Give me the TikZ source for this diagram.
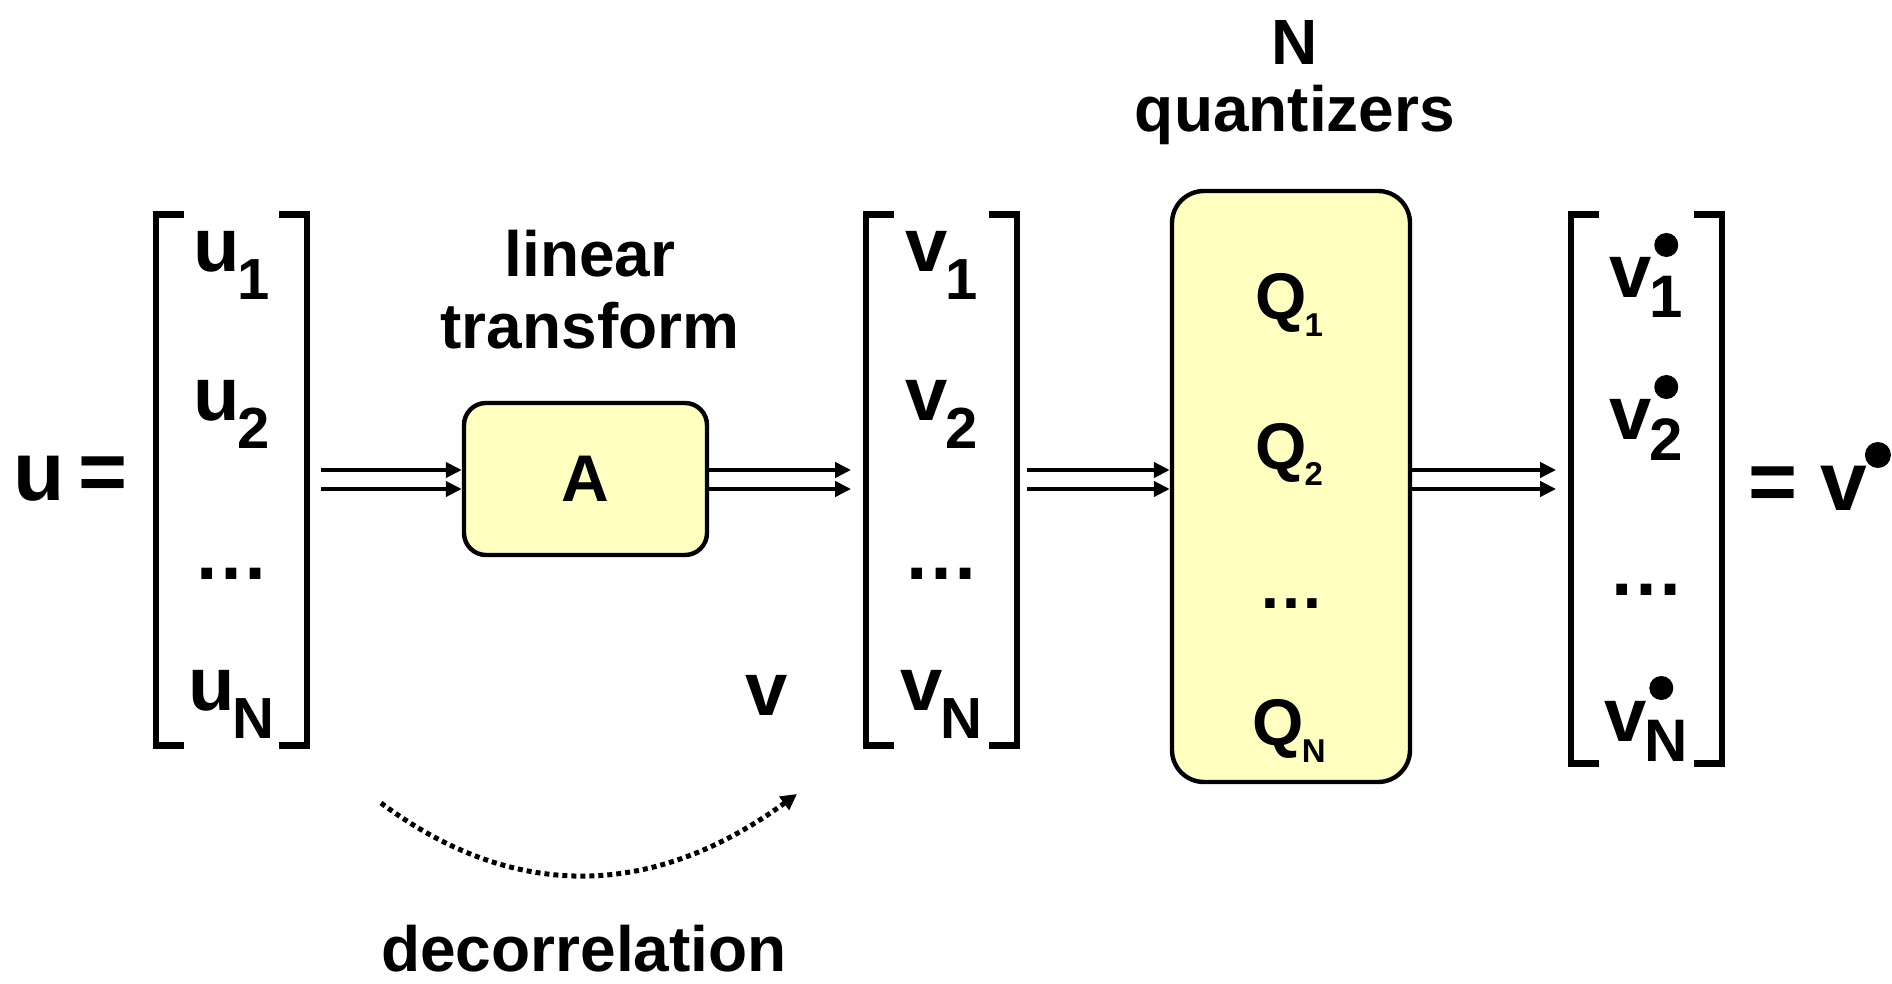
\documentclass[tikz,border=0pt]{standalone}
\usepackage{fontspec}
\setmainfont{Liberation Sans}
\usetikzlibrary{arrows.meta,calc}
\definecolor{boxfill}{RGB}{255,255,192}
\newcommand{\fsz}[1]{\fontsize{#1}{#1}\selectfont\bfseries}
% lowered index: drop, size, text
\newcommand{\lowsub}[3]{\kern-1pt\raisebox{-#1}{\fsz{#2}#3}}

\begin{document}
\begin{tikzpicture}[x=0.5pt,y=-0.5pt,
  txt/.style={inner sep=0pt, anchor=base, font=\fsz{32pt}},
  ent/.style={inner sep=0pt, anchor=base, font=\fsz{38pt}},
  qent/.style={inner sep=0pt, anchor=base, font=\fsz{33pt}},
  mat/.style={inner sep=0pt, minimum width=75pt},
  brk/.style={line width=3.3pt},
  blk/.style={draw, line width=2.2pt, fill=boxfill, inner sep=0pt},
  arr/.style={line width=2pt, -{Triangle[length=8pt,width=7.5pt]}},
  dotarr/.style={line width=2.5pt, dash pattern=on 2.5pt off 2pt, -{Triangle[length=8pt,width=8pt]}}
]
\useasboundingbox (0,0) rectangle (1892,984);

% vectors as bracketed columns
\node[mat, minimum height=265pt] (U) at (231.5,480) {};
\node[mat, minimum height=265pt] (V) at (941.5,480) {};
\node[mat, minimum height=274pt] (W) at (1646.5,489) {};
\foreach \m in {U,V,W} {
  \draw[brk] ([xshift=14pt]\m.north west) -- (\m.north west) -- (\m.south west) -- ([xshift=14pt]\m.south west);
  \draw[brk] ([xshift=-14pt]\m.north east) -- (\m.north east) -- (\m.south east) -- ([xshift=-14pt]\m.south east);
}

% u = [...]
\node[inner sep=0pt, anchor=base west, font=\fsz{42pt}] (lhs) at (13,501) {u\hspace{7pt}=};
\node[ent] (u1) at (231.5,272) {u\lowsub{14pt}{29pt}{1}};
\node[ent] (u2) at (231.5,421) {u\lowsub{14pt}{29pt}{2}};
\node[ent] (ud) at (231.5,579) {…};
\node[ent] (uN) at (231.5,710) {u\lowsub{14pt}{29pt}{N}};

% linear transform
\node[txt] (lin) at (590,277) {linear};
\node[txt] (trf) at (590,349) {transform};
\node[blk, rounded corners=11pt, minimum width=121.5pt, minimum height=76pt, font=\fsz{33pt}] (A) at (585.5,479) {A};

% v = [...]
\node[ent] (v1) at (941.5,272) {v\lowsub{14pt}{29pt}{1}};
\node[ent] (v2) at (941.5,421) {v\lowsub{14pt}{29pt}{2}};
\node[ent] (vd) at (941.5,579) {…};
\node[ent] (vN) at (941.5,710) {v\lowsub{14pt}{29pt}{N}};
\node[ent] (vlab) at (767,715) {v};

% N quantizers
\node[txt] (nq) at (1295,65) {N};
\node[txt] (qz) at (1295,132) {quantizers};
\node[blk, rounded corners=16pt, minimum width=119pt, minimum height=295.5pt] (Q) at (1291,486.5) {};
\node[qent] (q1) at (1289,320) {Q\lowsub{8.5pt}{16.5pt}{1}};
\node[qent] (q2) at (1289,469) {Q\lowsub{8.5pt}{16.5pt}{2}};
\node[qent] (qd) at (1291,608) {…};
\node[qent] (qN) at (1289,745) {Q\lowsub{8.5pt}{16.5pt}{N}};

% quantized vector
\node[ent] (w1) at (1646.5,298) {v\lowsub{10pt}{30pt}{1}};
\node[ent] (w2) at (1646.5,440) {v\lowsub{10pt}{30pt}{2}};
\node[ent] (wd) at (1646.5,595) {…};
\node[ent] (wN) at (1646.5,741) {v\lowsub{10pt}{30pt}{N}};
\foreach \e in {w1,w2,wN}
  \fill ([shift={(28.5pt,26.5pt)}]\e.base west) circle (6pt);
\node[inner sep=0pt, anchor=base west, font=\fsz{42pt}] (rhs) at (1748,510) {= v};
\fill ([shift={(5pt,27.5pt)}]rhs.base east) circle (6.5pt);

% parallel signal arrows
\coordinate (r1) at (0,470);
\coordinate (r2) at (0,489);
\foreach \r in {r1,r2} {
  \draw[arr] ($(U.east |- \r)+(14,0)$) -- (A.west |- \r);
  \draw[arr] (A.east |- \r) -- ($(V.west |- \r)+(-15,0)$);
  \draw[arr] ($(V.east |- \r)+(10,0)$) -- (Q.west |- \r);
  \draw[arr] (Q.east |- \r) -- ($(W.west |- \r)+(-15,0)$);
}

% decorrelation
\coordinate (ds) at (381,803);
\coordinate (de) at (797,794);
\draw[dotarr] (ds) .. controls (514,902) and (653,899) .. (de);
\node[txt] (dec) at (584,971) {decorrelation};
\end{tikzpicture}
\end{document}
